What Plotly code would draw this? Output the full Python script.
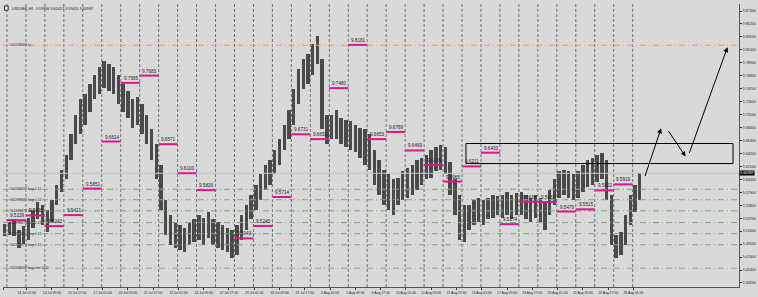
import plotly.graph_objects as go

# ---------------- data ----------------
# 6-hour blocks of the H1 USDSEK chart (first block = last 5 bars of 9 Jul)
block_highs = [
    9.528,
    9.531, 9.535, 9.518, 9.525,
    9.538, 9.551, 9.564, 9.559,
    9.551, 9.567, 9.591, 9.616,
    9.640, 9.673, 9.705, 9.730,
    9.738, 9.754, 9.770, 9.782,
    9.792, 9.787, 9.782, 9.770,
    9.754, 9.743, 9.730, 9.733,
    9.722, 9.705, 9.681, 9.657,
    9.624, 9.567, 9.543, 9.531,
    9.526, 9.521, 9.531, 9.535,
    9.543, 9.538, 9.547, 9.535,
    9.531, 9.526, 9.521, 9.518,
    9.526, 9.543, 9.559, 9.575,
    9.591, 9.608, 9.624, 9.632,
    9.648, 9.665, 9.689, 9.713,
    9.746, 9.779, 9.795, 9.803,
    9.819, 9.832, 9.795, 9.705,
    9.705, 9.713, 9.700, 9.697,
    9.694, 9.689, 9.684, 9.681,
    9.673, 9.648, 9.632, 9.616,
    9.608, 9.600, 9.603, 9.613,
    9.619, 9.624, 9.632, 9.635,
    9.640, 9.648, 9.652, 9.655,
    9.652, 9.629, 9.600, 9.575,
    9.559, 9.559, 9.567, 9.570,
    9.567, 9.570, 9.575, 9.573,
    9.575, 9.580, 9.575, 9.578,
    9.580, 9.575, 9.570, 9.575,
    9.570, 9.564, 9.583, 9.600,
    9.613, 9.616, 9.613, 9.608,
    9.613, 9.624, 9.632, 9.635,
    9.640, 9.642, 9.632, 9.575,
    9.510, 9.515, 9.543, 9.575,
    9.591, 9.610,
]
block_lows = [
    9.508,
    9.510, 9.508, 9.489, 9.495,
    9.502, 9.521, 9.535, 9.526,
    9.515, 9.531, 9.559, 9.580,
    9.600, 9.632, 9.657, 9.673,
    9.689, 9.710, 9.730, 9.738,
    9.749, 9.743, 9.738, 9.722,
    9.710, 9.700, 9.684, 9.689,
    9.673, 9.657, 9.632, 9.600,
    9.551, 9.510, 9.494, 9.489,
    9.486, 9.482, 9.494, 9.499,
    9.502, 9.494, 9.505, 9.494,
    9.489, 9.486, 9.482, 9.473,
    9.478, 9.502, 9.518, 9.535,
    9.551, 9.567, 9.583, 9.591,
    9.608, 9.624, 9.648, 9.665,
    9.689, 9.722, 9.746, 9.754,
    9.770, 9.787, 9.681, 9.657,
    9.665, 9.665, 9.657, 9.652,
    9.648, 9.645, 9.635, 9.624,
    9.616, 9.591, 9.575, 9.559,
    9.551, 9.543, 9.559, 9.567,
    9.570, 9.575, 9.583, 9.591,
    9.600, 9.603, 9.613, 9.616,
    9.608, 9.575, 9.543, 9.502,
    9.499, 9.518, 9.526, 9.531,
    9.526, 9.535, 9.538, 9.543,
    9.538, 9.543, 9.535, 9.543,
    9.543, 9.535, 9.531, 9.538,
    9.531, 9.518, 9.543, 9.559,
    9.570, 9.575, 9.570, 9.567,
    9.570, 9.580, 9.587, 9.591,
    9.596, 9.600, 9.567, 9.494,
    9.473, 9.478, 9.494, 9.526,
    9.547, 9.567,
]

x_labels = ["9 Jul 2020", "13 Jul 01:00", "14 Jul 09:00", "15 Jul 17:00", "17 Jul 01:00",
            "20 Jul 09:00", "21 Jul 17:00", "23 Jul 01:00", "24 Jul 09:00", "27 Jul 17:00",
            "29 Jul 01:00", "30 Jul 09:00", "31 Jul 17:00", "4 Aug 01:00", "5 Aug 09:00",
            "6 Aug 17:00", "10 Aug 01:00", "11 Aug 09:00", "12 Aug 17:00", "14 Aug 01:00",
            "17 Aug 09:00", "18 Aug 17:00", "20 Aug 01:00", "21 Aug 09:00", "24 Aug 17:00",
            "26 Aug 01:00"]

y_ticks = [9.873 - 0.021 * k for k in range(22)]

daily_levels = [9.5339, 9.5415, 9.5243, 9.5421, 9.5851, 9.6614, 9.7565, 9.7683, 9.6571, 9.6100,
                9.5826, None, 9.5043, 9.5245, 9.5714, 9.6731, 9.6653, 9.7480, 9.8181, 9.6653,
                9.6769, 9.6469, 9.6236, 9.5965, 9.6211, 9.6433, 9.5274, 9.5638, 9.5632, 9.5479,
                9.5515, 9.5822, 9.5919]

order_levels = [9.5840, 9.5670, 9.5490, 9.5300, 9.5120, 9.4940, 9.4560]
order_labels = ["#64278397 buy 0.11", "#64278387 buy 0.11", "#64278372 buy 0.11",
                "#64278373 buy 0.11", "#64278371 buy 0.11", "#64278370 buy 0.11",
                "#64278369 buy limit 0.11"]
tp_level = 9.8175
tp_label = "#64278368 tp"

current_price = 9.60987
title_text = "USDSEK,H1  9.59966 9.61417 9.59411 9.60987"

# ---------------- positions (bar index = 1 hour) ----------------
bars_per_day = 24
first_day_bar = 5
block_len = 6
block_x = [2.0] + [first_day_bar + block_len * k + block_len / 2 for k in range(len(block_highs) - 1)]
block_w = [3.6] + [block_len * 0.72] * (len(block_highs) - 1)
label_bars = [0] + [first_day_bar + bars_per_day + 1 + 32 * k for k in range(len(x_labels) - 1)]

BG = "#d9d9d9"
INK = "#4a4a4a"
fig = go.Figure()
fig.add_trace(go.Bar(x=block_x, y=[h - l for h, l in zip(block_highs, block_lows)], base=block_lows,
                     width=block_w, marker=dict(color=INK, line=dict(width=0)),
                     showlegend=False, hoverinfo="skip"))

shapes = []
annos = []
# day separators
for d in range(34):
    b = first_day_bar + bars_per_day * d
    shapes.append(dict(type="line", xref="x", yref="paper", x0=b, x1=b, y0=0, y1=1, layer="below",
                       line=dict(color="#707070", width=1, dash="3px,2px")))
# order lines
for lv, lb in zip(order_levels, order_labels):
    shapes.append(dict(type="line", xref="paper", yref="y", x0=0, x1=1, y0=lv, y1=lv,
                       line=dict(color="#78ad78", width=1, dash="6px,3px,1px,3px")))
    annos.append(dict(xref="paper", yref="y", x=0.006, y=lv, text=lb, showarrow=False,
                      xanchor="left", yanchor="middle", font=dict(size=3.6, color="#333")))
shapes.append(dict(type="line", xref="paper", yref="y", x0=0, x1=1, y0=tp_level, y1=tp_level,
                   line=dict(color="#e8a07a", width=1, dash="6px,3px,1px,3px")))
annos.append(dict(xref="paper", yref="y", x=0.006, y=tp_level, text=tp_label, showarrow=False,
                  xanchor="left", yanchor="middle", font=dict(size=3.6, color="#333")))
# current price line
shapes.append(dict(type="line", xref="paper", yref="y", x0=0, x1=1, y0=current_price, y1=current_price,
                   line=dict(color="#c4c4c4", width=1)))
# daily levels
for d, lv in enumerate(daily_levels):
    if lv is None:
        continue
    b0 = first_day_bar + bars_per_day * d
    shapes.append(dict(type="line", xref="x", yref="y", x0=b0, x1=b0 + bars_per_day, y0=lv, y1=lv,
                       line=dict(color="#e0148c", width=2)))
    annos.append(dict(xref="x", yref="y", x=b0 + 1, y=lv, text=f"{lv:.4f}", showarrow=False,
                      xanchor="left", yanchor="bottom", yshift=0, font=dict(size=4.6, color="#222")))
# rectangle
shapes.append(dict(type="rect", xref="x", yref="y", x0=586, x1=924, y0=9.6257, y1=9.6582,
                   line=dict(color="#000", width=1)))
# arrows
arrows = [((812, 9.6029), (833, 9.6828)), ((841, 9.6809), (864, 9.6370)), ((868, 9.6403), (917, 9.8144))]
for (sx, sy), (ex, ey) in arrows:
    annos.append(dict(xref="x", yref="y", axref="x", ayref="y", x=ex, y=ey, ax=sx, ay=sy,
                      showarrow=True, arrowhead=2, arrowsize=1, arrowwidth=1, arrowcolor="#000", text=""))
# current price box
annos.append(dict(xref="paper", yref="y", x=1.0, y=current_price, text="9.60987", showarrow=False,
                  xanchor="left", yanchor="middle", bgcolor="#000", font=dict(size=3.8, color="#fff"),
                  borderpad=0))
# title & icon
annos.append(dict(xref="paper", yref="paper", x=0.009, y=0.998, text=title_text,
                  showarrow=False, xanchor="left", yanchor="top", font=dict(size=3.8, color="#222")))
shapes.append(dict(type="rect", xref="paper", yref="paper", x0=0.002, x1=0.007, y0=0.978, y1=0.993,
                   line=dict(color="#222", width=1), fillcolor="#fff"))
# scrollbar tab at bottom
shapes.append(dict(type="rect", xref="paper", yref="paper", x0=0.315, x1=0.356, y0=-0.035, y1=-0.047,
                   line=dict(width=0), fillcolor="#ffffff"))

fig.update_layout(
    width=758, height=297, margin=dict(l=3, r=19, t=4, b=10),
    paper_bgcolor=BG, plot_bgcolor=BG, bargap=0,
    font=dict(family="Liberation Sans", size=4, color="#222"),
    shapes=shapes, annotations=annos,
    xaxis=dict(range=[0, 931.6], tickmode="array", tickvals=label_bars, ticktext=x_labels,
               tickangle=0, showgrid=False, zeroline=False, ticks="outside",
               ticklen=2, tickcolor="#333", showline=True, linecolor="#555", mirror=False,
               tickfont=dict(size=3.4, color="#222")),
    yaxis=dict(side="right", range=[9.4255, 9.8844], tickmode="array", tickvals=y_ticks,
               ticktext=[f"{v:.5f}" for v in y_ticks], showgrid=False, zeroline=False,
               ticks="outside", ticklen=2, tickcolor="#333", showline=True, linecolor="#555",
               tickfont=dict(size=3.6, color="#222")),
)
fig.write_html("out.html")
